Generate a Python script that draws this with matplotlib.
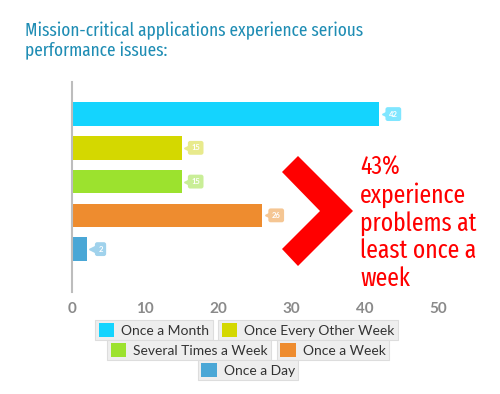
import matplotlib
matplotlib.use("Agg")
import matplotlib.pyplot as plt
from matplotlib.patches import Polygon, Patch
from matplotlib.transforms import offset_copy

categories = ["Once a Month", "Once Every Other Week", "Several Times a Week", "Once a Week", "Once a Day"]
values = [42, 15, 15, 26, 2]
colors = ["#14D4FE", "#D4D800", "#9CE22E", "#EE8C2F", "#4AA7D6"]
label_colors = ["#80E6FF", "#E8EA8C", "#C9EE97", "#F5C693", "#A0D2EC"]
xticks = [0, 10, 20, 30, 40, 50]
title = "Mission-critical applications experience serious\nperformance issues:"
callout = "43%\nexperience\nproblems at\nleast once a\nweek"

W, H = 500, 394
fig = plt.figure(figsize=(W / 100, H / 100), dpi=100)
fig.patch.set_facecolor("white")

def fx(px):
    return px / W

def fy(py):
    return 1 - py / H

ax = fig.add_axes([fx(72), fy(292), fx(438) - fx(72), fy(82) - fy(292)])
ypos = list(range(len(values)))
ax.barh(ypos, values, height=0.7, color=colors, zorder=2)
ax.set_xlim(0, 50)
ax.set_ylim(5.27, -0.95)
ax.set_yticks([])
ax.set_xticks(xticks)
ax.set_xticklabels([str(t) for t in xticks], fontsize=11, color="#8a8a8a",
                   fontfamily="Lato", fontweight="bold")
ax.tick_params(axis="x", length=0, pad=7)
for s in ["top", "right", "bottom"]:
    ax.spines[s].set_visible(False)
ax.spines["left"].set_color("#bdbdbd")
ax.spines["left"].set_linewidth(1.5)

for y, v, lc in zip(ypos, values, label_colors):
    tr = offset_copy(ax.transData, fig=fig, x=4, y=0, units="points")
    ax.plot([v], [y], marker="<", ms=5, color=lc, transform=tr, zorder=3, clip_on=False)
    ax.annotate(str(v), xy=(v, y), xytext=(10, 0), textcoords="offset points",
                ha="center", va="center", fontsize=5.5, color="white", fontweight="bold",
                fontfamily="Lato",
                bbox=dict(boxstyle="round,pad=0.45,rounding_size=0.3", fc=lc, ec="none"),
                zorder=4, annotation_clip=False)

fig.text(fx(25), fy(22), title, ha="left", va="top", fontsize=13.5, color="#1F8DB4",
         fontfamily="Fira Sans Extra Condensed", linespacing=1.12)

chev = [(282, 172), (298, 156), (353, 211), (298, 266), (282, 249), (320, 211)]
fig.patches.append(Polygon([(fx(a), fy(b)) for a, b in chev], closed=True,
                           transform=fig.transFigure, fc="#FF0000", ec="none"))

fig.text(fx(360), fy(155), callout, ha="left", va="top", fontsize=18.5, color="#FF0000",
         fontfamily="Fira Sans Extra Condensed", linespacing=1.13)

# legend entries, one box each
leg_pos = [(154, 330), (308, 330), (189, 350), (333, 350), (248, 370)]
for name, c, (lx, ly) in zip(categories, colors, leg_pos):
    lg = fig.legend(handles=[Patch(fc=c, ec="none")], labels=[name], loc="center",
                    bbox_to_anchor=(fx(lx), fy(ly)), bbox_transform=fig.transFigure,
                    frameon=True, fancybox=False, handlelength=1.1,
                    handleheight=1.1, handletextpad=0.5, borderpad=0.25,
                    borderaxespad=0, prop={"family": "Lato", "size": 10})
    fr = lg.get_frame()
    fr.set_facecolor("#EEEEEE")
    fr.set_edgecolor("#DDDDDD")
    fr.set_linewidth(0.8)
    fr.set_alpha(1)
    for t in lg.get_texts():
        t.set_color("#333333")

fig.savefig("out.png", dpi=100, facecolor="white")
